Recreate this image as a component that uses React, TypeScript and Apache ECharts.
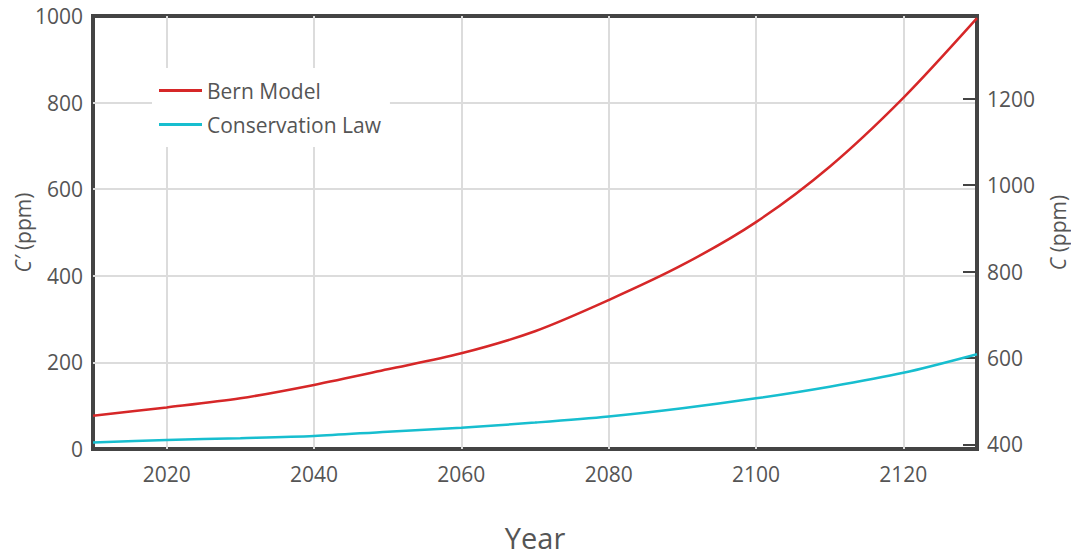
import React, { useEffect, useRef } from "react";
import * as echarts from "echarts";

// Years sampled every decade
const years = [2010, 2020, 2030, 2040, 2050, 2060, 2070, 2080, 2090, 2100, 2110, 2120, 2130];
// Excess CO2 C' (ppm) under each model
const bernModel = [77, 96, 117, 148, 184, 221, 272, 344, 425, 524, 652, 811, 995];
const conservationLaw = [15, 21, 25, 30, 40, 49, 61, 75, 94, 117, 144, 176, 219];

// Tick values
const yearTicks = [2020, 2040, 2060, 2080, 2100, 2120];
const leftLabels = [0, 200, 400, 600, 800, 1000];
const leftGrid = [200, 400, 600, 800];
const rightTicks = [400, 600, 800, 1000, 1200];

const FONT = "'Open Sans', 'Noto Sans', sans-serif";
const TEXT = "#555";
const FRAME = "#444";
const GRID = "#dcdcdc";

const plain = (v: number) => String(v);

export default function App() {
  const ref = useRef<HTMLDivElement>(null);

  useEffect(() => {
    if (!ref.current) return;
    const chart = echarts.init(ref.current, null, { renderer: "svg" });

    const pairs = (vals: number[]) => years.map((y, i) => [y, vals[i]]);

    chart.setOption({
      animation: false,
      textStyle: { fontFamily: FONT },
      grid: {
        left: 93,
        right: 94,
        top: 16,
        bottom: 108,
        containLabel: false,
        outerBoundsMode: "none",
        show: true,
        borderColor: FRAME,
        borderWidth: 4,
        backgroundColor: "transparent",
      },
      legend: {
        left: 152,
        top: 68,
        orient: "vertical",
        backgroundColor: "#fff",
        padding: [12, 9, 12, 7],
        icon: "rect",
        itemWidth: 43,
        itemHeight: 3,
        itemGap: 13,
        itemTextGap: 8,
        textStyle: { fontFamily: FONT, fontSize: 21, color: TEXT },
        data: ["Bern Model", "Conservation Law"],
      },
      xAxis: {
        type: "value",
        min: 2010,
        max: 2130,
        name: "Year",
        nameLocation: "middle",
        nameGap: 74,
        nameMoveOverlap: false,
        nameTextStyle: { fontFamily: FONT, fontSize: 29, color: TEXT, lineHeight: 28 },
        axisLine: { show: false },
        axisTick: { show: false, customValues: yearTicks },
        axisLabel: {
          customValues: yearTicks,
          formatter: plain,
          fontFamily: FONT,
          fontSize: 21,
          color: TEXT,
          margin: 14,
        },
        splitLine: { show: true, lineStyle: { color: GRID, width: 2 } },
      },
      yAxis: [
        {
          type: "value",
          min: 0,
          max: 1000,
          position: "left",
          name: "{i|C′} (ppm)",
          nameLocation: "middle",
          nameGap: 60,
          nameMoveOverlap: false,
          nameTextStyle: {
            fontFamily: FONT,
            fontSize: 21,
            color: TEXT,
            rich: { i: { fontFamily: FONT, fontSize: 21, color: TEXT, fontStyle: "italic" } },
          },
          axisLine: { show: false },
          axisTick: { show: false, customValues: leftGrid },
          axisLabel: {
            customValues: leftLabels,
            formatter: plain,
            fontFamily: FONT,
            fontSize: 21,
            color: TEXT,
            margin: 10,
          },
          splitLine: { show: true, lineStyle: { color: GRID, width: 2 } },
        },
        {
          type: "value",
          min: 389,
          max: 1392,
          position: "right",
          name: "{i|C} (ppm)",
          nameLocation: "middle",
          nameGap: 70,
          nameMoveOverlap: false,
          nameTextStyle: {
            fontFamily: FONT,
            fontSize: 21,
            color: TEXT,
            rich: { i: { fontFamily: FONT, fontSize: 21, color: TEXT, fontStyle: "italic" } },
          },
          axisLine: { show: true, lineStyle: { color: FRAME, width: 4 } },
          axisTick: {
            show: true,
            inside: true,
            length: 14,
            customValues: rightTicks,
            lineStyle: { color: FRAME, width: 2 },
          },
          axisLabel: {
            customValues: rightTicks,
            formatter: plain,
            fontFamily: FONT,
            fontSize: 21,
            color: TEXT,
            margin: 10,
          },
          splitLine: { show: false },
        },
      ],
      series: [
        {
          name: "Bern Model",
          type: "line",
          yAxisIndex: 0,
          data: pairs(bernModel),
          smooth: 0.3,
          symbol: "none",
          color: "#d62728",
          lineStyle: { color: "#d62728", width: 2.5 },
        },
        {
          name: "Conservation Law",
          type: "line",
          yAxisIndex: 0,
          data: pairs(conservationLaw),
          smooth: 0.3,
          symbol: "none",
          color: "#17becf",
          lineStyle: { color: "#17becf", width: 2.5 },
        },
      ],
    });

    return () => chart.dispose();
  }, []);

  return (
    <div
      ref={ref}
      style={{ position: "fixed", left: 0, top: 0, width: 1071, height: 557, background: "#fff" }}
    />
  );
}
